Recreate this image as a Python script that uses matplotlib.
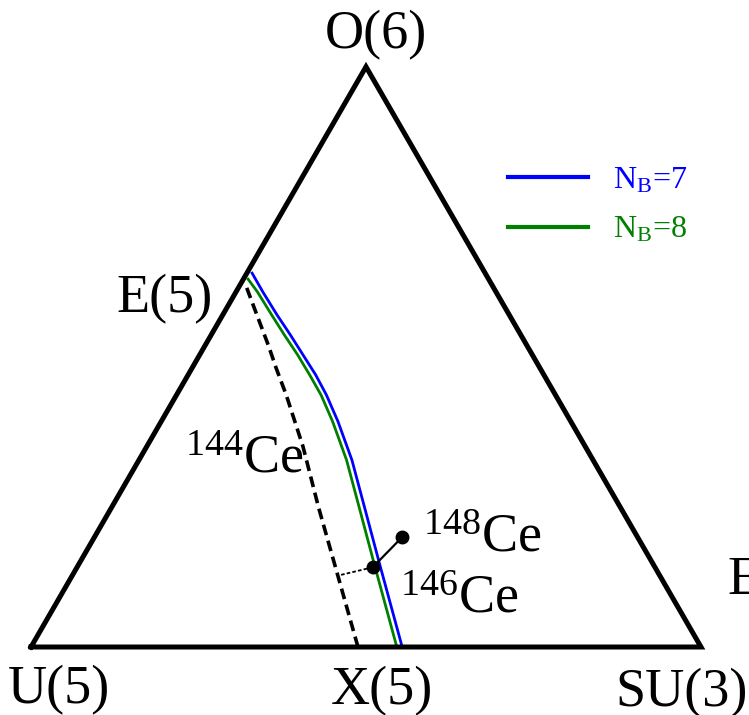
import matplotlib.pyplot as plt
import numpy as np

plt.rcParams['font.family'] = ['Liberation Serif', 'DejaVu Serif']
plt.rcParams['mathtext.fontset'] = 'custom'
plt.rcParams['mathtext.rm'] = 'Liberation Serif'
plt.rcParams['mathtext.it'] = 'Liberation Serif:italic'

# triangle corners (side = 1): U(5), SU(3), O(6)
corner_x = [0.0, 1.0, 0.5, 0.0]
corner_y = [0.0, 0.0, np.sqrt(3) / 2, 0.0]

# critical line E(5) -> X(5), N_B = 7
nb7_x = [0.330, 0.346, 0.367, 0.387, 0.406, 0.425, 0.441, 0.458, 0.479, 0.499, 0.520, 0.554]
nb7_y = [0.558, 0.530, 0.496, 0.466, 0.436, 0.406, 0.376, 0.337, 0.279, 0.204, 0.125, 0.000]

# critical line, N_B = 8
nb8_x = [0.324, 0.338, 0.359, 0.378, 0.398, 0.416, 0.433, 0.450, 0.471, 0.491, 0.512, 0.546]
nb8_y = [0.549, 0.530, 0.496, 0.466, 0.436, 0.406, 0.376, 0.337, 0.279, 0.204, 0.125, 0.000]

# 144Ce dashed line
ce144_x = [0.322, 0.337, 0.354, 0.366, 0.381, 0.406, 0.429, 0.457, 0.488]
ce144_y = [0.536, 0.496, 0.451, 0.416, 0.376, 0.299, 0.209, 0.110, 0.000]

# nuclei positions
ce146 = (0.510, 0.119)
ce148 = (0.554, 0.164)
ce146_proj = (0.460, 0.107)

fig = plt.figure(figsize=(7.49, 7.15), dpi=100)
ax = fig.add_axes([0, 0, 1, 1])

ax.plot(corner_x, corner_y, color='black', lw=3.6, solid_joinstyle='miter', zorder=3)
ax.plot(ce144_x, ce144_y, color='black', lw=2.6, ls=(0, (3.0, 1.6)), zorder=2)
ax.plot(nb7_x, nb7_y, color='#0000ff', lw=2.0, label=r'N$_{\mathrm{B}}$=7', zorder=2)
ax.plot(nb8_x, nb8_y, color='#008000', lw=2.0, label=r'N$_{\mathrm{B}}$=8', zorder=2)

ax.plot([ce146[0], ce148[0]], [ce146[1], ce148[1]], color='black', lw=1.6, zorder=4)
ax.plot([ce146[0], ce146_proj[0]], [ce146[1], ce146_proj[1]], color='black', lw=1.3,
        ls=(0, (2, 1.2)), zorder=4)
ax.plot([ce146[0], ce148[0]], [ce146[1], ce148[1]], 'o', color='black', ms=9, zorder=5)

fs = 39
ax.text(0.439, 0.893, 'O(6)', fontsize=fs, ha='left', va='baseline')
ax.text(0.128, 0.500, 'E(5)', fontsize=fs, ha='left', va='baseline')
ax.text(-0.034, -0.084, 'U(5)', fontsize=fs, ha='left', va='baseline')
ax.text(0.448, -0.085, 'X(5)', fontsize=fs, ha='left', va='baseline')
ax.text(0.872, -0.089, 'SU(3)', fontsize=fs, ha='left', va='baseline')
ax.text(1.039, 0.078, 'E(5)', fontsize=fs, ha='left', va='baseline')

ax.text(0.230, 0.261, r'$^{144}$Ce', fontsize=fs, ha='left', va='baseline')
ax.text(0.585, 0.142, r'$^{148}$Ce', fontsize=fs, ha='left', va='baseline')
ax.text(0.551, 0.052, r'$^{146}$Ce', fontsize=fs, ha='left', va='baseline')

leg = ax.legend(loc='upper left', bbox_to_anchor=(0.678, 0.768), frameon=False,
                fontsize=23, labelcolor='linecolor', handlelength=2.5, handletextpad=0.78,
                labelspacing=0.62, borderpad=0, borderaxespad=0)
for h in leg.get_lines():
    h.set_linewidth(3.0)

ax.set_xlim(-31 / 670, 718 / 670)
ax.set_ylim(-68 / 670, 647 / 670)
ax.axis('off')

fig.savefig('out.png', dpi=100)
